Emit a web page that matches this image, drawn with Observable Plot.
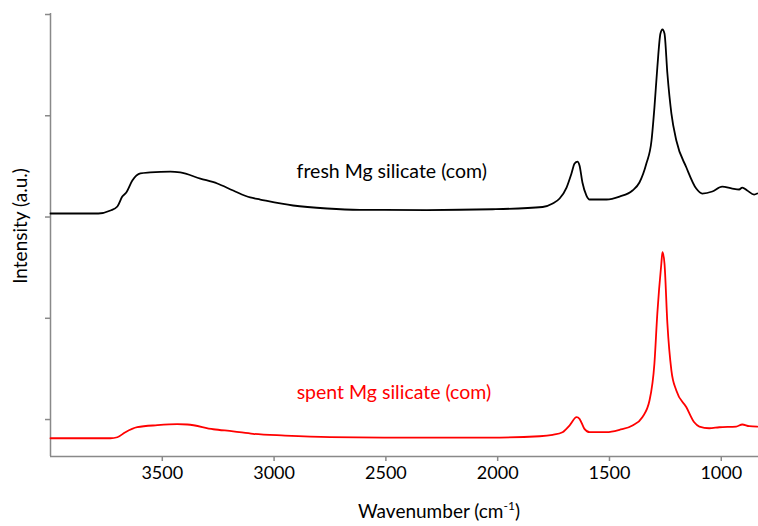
<!DOCTYPE html>
<html>
<head>
<meta charset="utf-8">
<script src="https://cdn.jsdelivr.net/npm/d3@7"></script>
<script src="https://cdn.jsdelivr.net/npm/@observablehq/plot@0.6"></script>
<style>
  html, body { margin: 0; padding: 0; background: #fff; }
  #chart svg { display: block; }
</style>
</head>
<body>
<div id="chart"></div>
<script>
// Fresh Mg silicate (com): wavenumber (cm-1) and intensity (a.u.)
const freshWave = [4000, 3786, 3732, 3701, 3679, 3661, 3634, 3598, 3554, 3464, 3420, 3330, 3254, 3183, 3107, 3062, 2915, 2763, 2616, 2317, 2022, 1799, 1754, 1723, 1692, 1670, 1656, 1643, 1634, 1621, 1603, 1589, 1513, 1455, 1397, 1366, 1335, 1312, 1299, 1286, 1272, 1263, 1254, 1241, 1223, 1201, 1156, 1112, 1085, 1040, 996, 951, 920, 906, 884, 853, 839];
const freshInt  = [2.035, 2.035, 2.064, 2.104, 2.202, 2.242, 2.360, 2.430, 2.440, 2.449, 2.440, 2.380, 2.331, 2.262, 2.193, 2.173, 2.114, 2.084, 2.071, 2.069, 2.077, 2.099, 2.133, 2.183, 2.291, 2.430, 2.528, 2.548, 2.509, 2.341, 2.212, 2.173, 2.173, 2.202, 2.262, 2.341, 2.528, 2.756, 3.081, 3.477, 3.812, 3.852, 3.812, 3.417, 3.022, 2.756, 2.489, 2.281, 2.232, 2.252, 2.301, 2.281, 2.272, 2.291, 2.262, 2.222, 2.232];

// Spent Mg silicate (com)
const spentWave = [4000, 3732, 3701, 3665, 3612, 3522, 3433, 3388, 3272, 3183, 3094, 2951, 2750, 2438, 2036, 1812, 1754, 1710, 1679, 1647, 1634, 1612, 1589, 1513, 1455, 1397, 1353, 1321, 1299, 1286, 1268, 1263, 1254, 1241, 1223, 1201, 1156, 1121, 1098, 1054, 1009, 933, 906, 875, 839];
const spentInt  = [-0.185, -0.185, -0.175, -0.125, -0.076, -0.056, -0.046, -0.049, -0.096, -0.116, -0.141, -0.158, -0.173, -0.178, -0.178, -0.165, -0.151, -0.125, -0.059, 0.023, 0.007, -0.092, -0.125, -0.125, -0.102, -0.059, 0.023, 0.188, 0.553, 1.047, 1.541, 1.652, 1.541, 0.948, 0.484, 0.286, 0.121, -0.027, -0.069, -0.086, -0.076, -0.069, -0.049, -0.066, -0.069];

const xTicks = [3500, 3000, 2500, 2000, 1500, 1000];
const yTicks = [0, 1, 2, 3, 4];
const seriesNames = ["fresh Mg silicate (com)", "spent Mg silicate (com)"];
const xLabel = "Wavenumber (cm";
const xLabelSup = "-1";
const yLabel = "Intensity (a.u.)";

const fresh = freshWave.map((w, i) => ({w, v: freshInt[i]}));
const spent = spentWave.map((w, i) => ({w, v: spentInt[i]}));

const xDomain = [4000, 833.5];
const yDomain = [-0.365, 4.01];
const axisGray = "#898989";
const font = "Lato, 'Noto Sans', sans-serif";

const plot = Plot.plot({
  width: 758,
  height: 526,
  marginLeft: 50,
  marginRight: 0,
  marginTop: 13,
  marginBottom: 70,
  style: {fontFamily: font, fontSize: "18px", color: "black", background: "white"},
  x: {domain: xDomain, axis: null},
  y: {domain: yDomain, axis: null},
  marks: [
    Plot.axisX({ticks: xTicks, tickSize: 5, tickPadding: 5, stroke: axisGray, strokeWidth: 1.5, fill: "black", fontSize: 18, label: null, tickFormat: d => String(d)}),
    Plot.axisY({ticks: yTicks, tickSize: 5, stroke: axisGray, strokeWidth: 1.5, tickFormat: () => "", label: null}),
    Plot.ruleX([xDomain[0]], {stroke: axisGray, strokeWidth: 1.5}),
    Plot.ruleY([yDomain[0]], {stroke: axisGray, strokeWidth: 1.5}),
    Plot.line(fresh, {x: "w", y: "v", stroke: "black", strokeWidth: 1.8, curve: "monotone-x"}),
    Plot.line(spent, {x: "w", y: "v", stroke: "#ff0000", strokeWidth: 1.8, curve: "monotone-x"}),
    Plot.text([seriesNames[0]], {x: 2474, y: 2.449, text: d => d, fill: "black", fontSize: 19.5}),
    Plot.text([seriesNames[1]], {x: 2464, y: 0.267, text: d => d, fill: "#ff0000", fontSize: 19.5})
  ]
});

const svg = d3.select(plot);
// X axis title with superscript
const xt = svg.append("text")
  .attr("x", 439).attr("y", 518)
  .attr("text-anchor", "middle")
  .attr("font-family", font).attr("font-size", 19).attr("fill", "black");
xt.append("tspan").text(xLabel);
xt.append("tspan").attr("font-size", 12).attr("dy", -8).text(xLabelSup);
xt.append("tspan").attr("dy", 8).text(")");
// Y axis title
svg.append("text")
  .attr("transform", "translate(27,226) rotate(-90)")
  .attr("text-anchor", "middle")
  .attr("font-family", font).attr("font-size", 19).attr("fill", "black")
  .text(yLabel);

document.getElementById("chart").appendChild(plot);
</script>
</body>
</html>
